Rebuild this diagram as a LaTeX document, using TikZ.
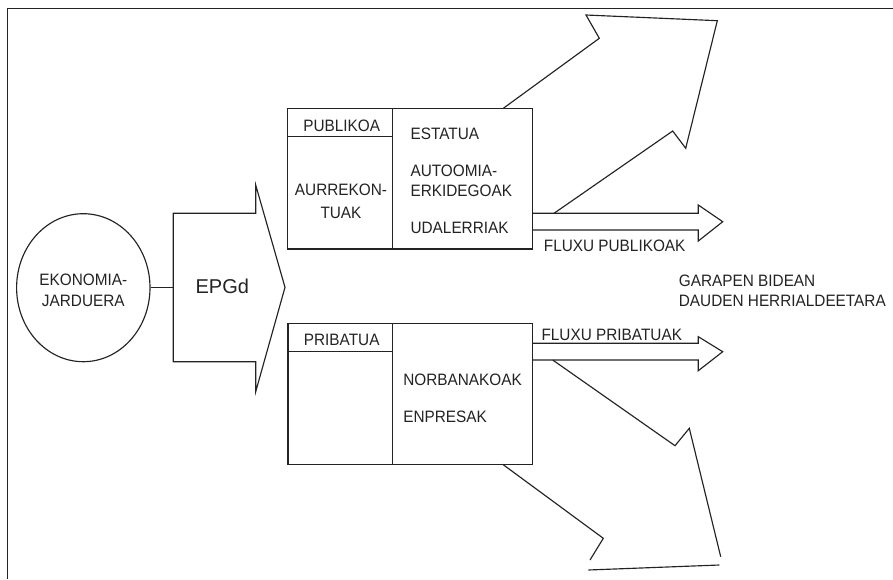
\documentclass[tikz,border=0pt]{standalone}
\usepackage{fontspec}
\setmainfont{Liberation Sans}
\newfontfamily\narrowsans[FakeStretch=0.93]{Liberation Sans}
\usetikzlibrary{shapes.geometric}
\definecolor{ink}{RGB}{35,35,35}
\begin{document}
\begin{tikzpicture}[x=1pt,y=-1pt,line width=1.15pt,draw=ink,line join=miter,
  txt/.style={inner sep=0pt,anchor=base west,text=ink,font=\narrowsans\fontsize{16.5}{19}\selectfont},
  txtc/.style={inner sep=0pt,anchor=base,text=ink,font=\narrowsans\fontsize{16.5}{19}\selectfont}]
\useasboundingbox (0,0) rectangle (893,579);
% outer frame (open to the right and bottom)
\draw[line width=1.2pt] (7.5,579) -- (7.5,8.3) -- (893,8.3);

% economic activity
\node[draw,ellipse,minimum width=133.4pt,minimum height=148pt,inner sep=0pt] (eco) at (83.3,287.7) {};
\node[txtc] (eco1) at (83.3,285) {EKONOMIA-};
\node[txtc] (eco2) at (83.3,306.7) {JARDUERA};

% EPGd block arrow
\coordinate (epgdIn) at (173.3,287.7);
\draw (173.3,213.3) -- (255.7,213.3) -- (255.7,185) -- (285,287.3) -- (255.7,391.7)
      -- (255.7,361.7) -- (173.3,361.7) -- cycle;
\node[txt,font=\fontsize{20}{24}\selectfont] (epgd) at (195,293.3) {EPGd};
\draw (eco.east) -- (epgdIn);

% public box
\coordinate (pubNW) at (287.5,108.3);
\coordinate (pubSE) at (532.3,249);
\draw (pubNW) rectangle (pubSE);
\draw (392.7,108.3) -- (392.7,249);
\draw (287.5,136.7) -- (392.7,136.7);
\node[txtc] (pub) at (341.7,131) {PUBLIKOA};
\node[txtc] (aur1) at (341,195) {AURREKON-};
\node[txtc] (aur2) at (341,218.3) {TUAK};
\node[txt] (est) at (410,139.3) {ESTATUA};
\node[txt] (aut1) at (410,176.7) {AUTOOMIA-};
\node[txt] (aut2) at (410,196.7) {ERKIDEGOAK};
\node[txt] (uda) at (410,233.3) {UDALERRIAK};

% private box
\coordinate (priNW) at (288,323.3);
\coordinate (priSE) at (532.3,464.3);
\draw (priNW) rectangle (priSE);
\draw (392.7,323.3) -- (392.7,464.3);
\draw (288,351.7) -- (392.7,351.7);
\node[txtc] (pri) at (341.7,345) {PRIBATUA};
\node[txt] (nor) at (402.7,385) {NORBANAKOAK};
\node[txt] (enp) at (402.7,422.7) {ENPRESAK};

% public flow arrow
\draw (532.3,213.3) -- (698.3,213.3) -- (698.3,205) -- (722.7,221.7) -- (698.3,241)
      -- (698.3,230) -- (532.3,230);
\node[txt] (fpub) at (543.3,251.7) {FLUXU PUBLIKOAK};

% private flow arrow
\draw (532.3,343.3) -- (698.3,343.3) -- (698.3,336.7) -- (722.7,351.7) -- (698.3,370.7)
      -- (698.3,360) -- (532.3,360);
\node[txt] (fpri) at (541,340) {FLUXU PRIBATUAK};

% large upward arrow
\draw (503.3,108.3) -- (599.3,38.3) -- (586,15) -- (717.3,20.7) -- (685.7,148.3)
      -- (672.7,131) -- (554,213.3);

% large downward arrow
\draw (552.7,360) -- (675,445.7) -- (689.3,428.3) -- (720.7,556.7);
\draw (719.3,565) -- (588.3,570);
\draw (590,560) -- (603.3,538.3) -- (502.7,464.3);

% destination
\node[txt] (dest1) at (678.3,286.7) {GARAPEN BIDEAN};
\node[txt] (dest2) at (678.3,306.7) {DAUDEN HERRIALDEETARA};
\end{tikzpicture}
\end{document}
